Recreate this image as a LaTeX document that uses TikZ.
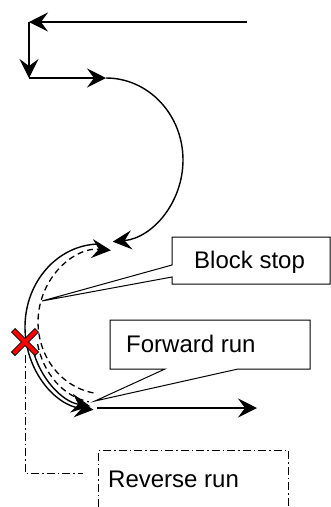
\documentclass[tikz,border=0pt]{standalone}
\usepackage{fontspec}
\setmainfont{Liberation Sans}
\usetikzlibrary{arrows.meta}
\begin{document}
\begin{tikzpicture}[x=1pt,y=1pt,
  conn/.style={line width=1.4pt,-{Stealth[length=19pt,width=19pt,inset=7pt]}},
  plain/.style={line width=1.4pt},
  dashline/.style={line width=1.3pt,dash pattern=on 6pt off 4pt},
  callout/.style={line width=1pt,fill=white,line join=miter},
  dashdotline/.style={line width=1pt,dash pattern=on 8pt off 3pt on 1.5pt off 3pt},
  lbl/.style={anchor=base west,inner sep=0pt,font=\fontsize{24}{28}\selectfont}]
\useasboundingbox (0,0) rectangle (331,-507);
% top path
\coordinate (a0) at (247,-22);
\coordinate (a1) at (29,-22);
\coordinate (a2) at (29,-78);
\coordinate (a3) at (106,-78);
\draw[conn] (a0) -- (a1);
\draw[conn] (a1) -- (a2);
\draw[conn] (a2) -- (a3);
\draw[conn] (a3) arc[start angle=90,end angle=-85,x radius=77,y radius=82];
% lower arcs
\coordinate (s1) at (100,-244);
\draw[conn] (s1) arc[start angle=90,end angle=265,x radius=75,y radius=83];
\coordinate (s2) at (32.4,-347.7);
\draw[conn] (s2) arc[start angle=195,end angle=262,x radius=70,y radius=80];
\coordinate (d1) at (93.4,-392.9);
\draw[dashline,-{Stealth[length=19pt,width=19pt,inset=7pt]}] (d1) arc[start angle=260,end angle=85,x radius=67,y radius=72];
\coordinate (d2) at (37.6,-344.1);
\draw[dashline] (d2) arc[start angle=193,end angle=260,x radius=64,y radius=76];
% bottom horizontal
\coordinate (b0) at (97,-408);
\coordinate (b1) at (257,-408);
\draw[conn] (b0) -- (b1);
% dash-dot line from X
\coordinate (x0) at (25,-355);
\coordinate (x1) at (25,-473);
\coordinate (x2) at (83,-473);
\draw[dashdotline] (x0) -- (x1) -- (x2);
% reverse run box
\draw[dashdotline] (98,-507) -- (98,-450) -- (288,-450) -- (288,-507);
\node[lbl] (rr) at (108,-487) {Reverse run};
% callouts
\draw[callout] (172,-237) -- (330,-237) -- (330,-284) -- (172,-284) -- (172,-277) -- (42,-301) -- (172,-265) -- cycle;
\node[lbl] (bs) at (194,-268) {Block stop};
\draw[callout] (110,-320) -- (310,-320) -- (310,-369) -- (238,-369) -- (95,-401) -- (165,-369) -- (110,-369) -- cycle;
\node[lbl] (fr) at (126,-352) {Forward run};
% red X
\coordinate (xc) at (25,-342);
\draw[line width=6pt,black] ([shift={(-12,12)}]xc) -- ([shift={(12,-12)}]xc) ([shift={(-12,-12)}]xc) -- ([shift={(12,12)}]xc);
\draw[line width=4pt,red] ([shift={(-11.3,11.3)}]xc) -- ([shift={(11.3,-11.3)}]xc) ([shift={(-11.3,-11.3)}]xc) -- ([shift={(11.3,11.3)}]xc);
\end{tikzpicture}
\end{document}
